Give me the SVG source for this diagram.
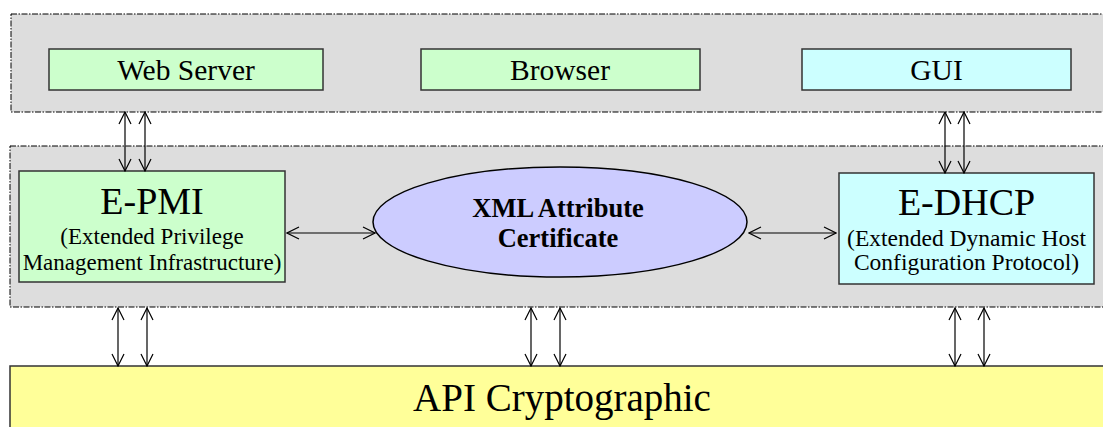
<svg xmlns="http://www.w3.org/2000/svg" width="1103" height="427" viewBox="0 0 1103 427">
<style>
.panel{fill:#DDDDDD;stroke:#000;stroke-width:1;stroke-dasharray:6,1.5,1.5,1.5}
.box{stroke:#333;stroke-width:1.5}
.green{fill:#CCFFCC}
.cyan{fill:#CCFFFF}
.t{font-family:"Liberation Serif","Times New Roman",serif;fill:#000;text-anchor:middle}
.conn line{stroke:#000;stroke-width:1.2;marker-start:url(#ah);marker-end:url(#ah)}
</style>
<defs>
<marker id="ah" markerUnits="userSpaceOnUse" markerWidth="14" markerHeight="14" viewBox="0 0 14 14" refX="13" refY="7" orient="auto-start-reverse">
<path d="M1,1 L13,7 L1,13" fill="none" stroke="#000" stroke-width="1.2"/>
</marker>
</defs>
<rect width="1103" height="427" fill="#fff"/>
<g id="top-panel"><rect class="panel" x="11" y="14" width="1100" height="98"/></g>
<g id="middle-panel"><rect class="panel" x="10" y="146" width="1100" height="161"/></g>
<g id="api"><rect x="10" y="366" width="1100" height="70" fill="#FFFF99" stroke="#333" stroke-width="1.5"/>
<text class="t" x="562" y="411" font-size="39">API Cryptographic</text></g>
<g id="webserver"><rect class="box green" x="49" y="49" width="274" height="41"/>
<text class="t" x="186" y="80" font-size="29.5">Web Server</text></g>
<g id="browser"><rect class="box green" x="421" y="49" width="279" height="41"/>
<text class="t" x="560" y="80" font-size="29.5">Browser</text></g>
<g id="gui"><rect class="box cyan" x="802" y="49" width="269" height="41"/>
<text class="t" x="936.5" y="80" font-size="29.5">GUI</text></g>
<g id="epmi"><rect class="box green" x="19" y="171" width="266" height="111"/>
<text class="t" x="152" y="214" font-size="38">E-PMI</text>
<text class="t" x="152" y="244" font-size="23">(Extended Privilege</text>
<text class="t" x="152" y="270" font-size="23">Management Infrastructure)</text></g>
<g id="xml"><ellipse cx="560" cy="222" rx="187" ry="55" fill="#CCCCFF" stroke="#000" stroke-width="1.5"/>
<text class="t" x="558" y="217" font-size="26.5" font-weight="bold">XML Attribute</text>
<text class="t" x="558" y="247" font-size="26.5" font-weight="bold">Certificate</text></g>
<g id="edhcp"><rect class="box cyan" x="839" y="173" width="255" height="111"/>
<text class="t" x="966.5" y="215" font-size="38">E-DHCP</text>
<text class="t" x="966.5" y="246" font-size="23.5">(Extended Dynamic Host</text>
<text class="t" x="966.5" y="270" font-size="23.5">Configuration Protocol)</text></g>
<g id="connectors" class="conn">
<line x1="125" y1="112" x2="125" y2="171"/>
<line x1="145" y1="112" x2="145" y2="171"/>
<line x1="945" y1="112" x2="945" y2="173"/>
<line x1="964" y1="112" x2="964" y2="173"/>
<line x1="287" y1="233" x2="375" y2="233"/>
<line x1="749" y1="233" x2="836" y2="233"/>
<line x1="118" y1="308" x2="118" y2="366"/>
<line x1="147" y1="308" x2="147" y2="366"/>
<line x1="531" y1="308" x2="531" y2="366"/>
<line x1="560" y1="308" x2="560" y2="366"/>
<line x1="955" y1="308" x2="955" y2="366"/>
<line x1="984" y1="308" x2="984" y2="366"/>
</g>
</svg>
